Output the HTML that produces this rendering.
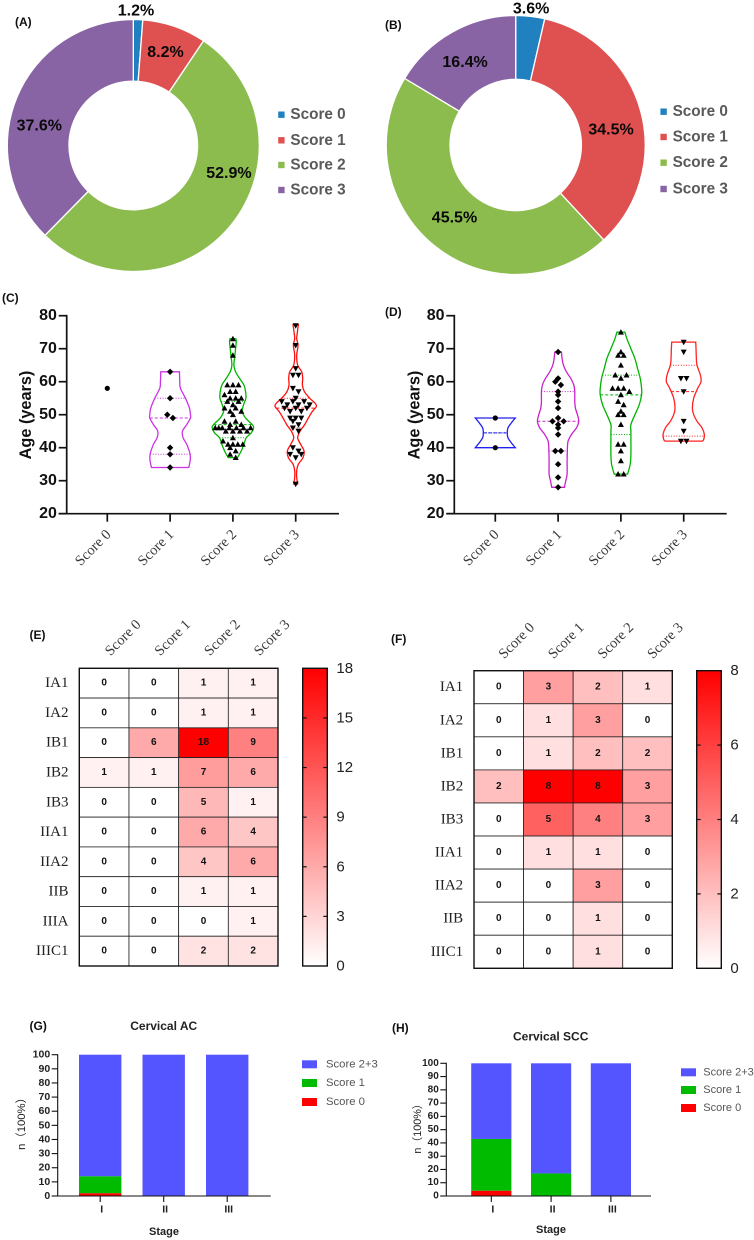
<!DOCTYPE html>
<html lang="en">
<head>
<meta charset="utf-8">
<title>Score distribution figure</title>
<style>
html,body{margin:0;padding:0;background:#fff;}
svg{display:block;font-family:"Liberation Sans","Noto Sans CJK SC",sans-serif;filter:blur(0.3px);}
.panel-tag{font-weight:bold;font-size:12px;fill:#111;}
.axis-title{font-weight:bold;font-size:16.3px;fill:#111;text-anchor:middle;}
.bar-title{font-weight:bold;font-size:12px;fill:#222;text-anchor:middle;}
.bar-ylabel{font-size:11.3px;fill:#222;text-anchor:middle;}
</style>
</head>
<body>
<svg id="figure" xmlns="http://www.w3.org/2000/svg" width="754" height="1240" viewBox="0 0 754 1240">
  <defs>
    <linearGradient id="heat-gradient" x1="0" y1="1" x2="0" y2="0">
      <stop offset="0" stop-color="#ffffff"/>
      <stop offset="1" stop-color="#ff0000"/>
    </linearGradient>
  </defs>
  <rect width="754" height="1240" fill="#fff"/>

  <g id="panel-a"></g>
  <g id="panel-b"></g>
  <g id="panel-c"></g>
  <g id="panel-d"></g>
  <g id="panel-e"></g>
  <g id="panel-f"></g>
  <g id="panel-g"></g>
  <g id="panel-h"></g>

  <text class="panel-tag" x="15" y="26">(A)</text>
  <text class="panel-tag" x="385" y="29">(B)</text>
  <text class="panel-tag" x="2" y="302">(C)</text>
  <text class="panel-tag" x="385" y="316">(D)</text>
  <text class="panel-tag" x="29.500" y="639">(E)</text>
  <text class="panel-tag" x="391" y="643">(F)</text>
  <text class="panel-tag" x="29.500" y="1030">(G)</text>
  <text class="panel-tag" x="392" y="1032">(H)</text>

  <text class="axis-title" transform="translate(26 415) rotate(-90)" dominant-baseline="central">Age (years)</text>
  <text class="axis-title" transform="translate(414.300 415) rotate(-90)" dominant-baseline="central">Age (years)</text>

  <text class="bar-title" x="163.700" y="1026" dominant-baseline="central">Cervical AC</text>
  <text class="bar-title" x="550.700" y="1036.700" dominant-baseline="central">Cervical SCC</text>
  <text class="bar-title" x="164" y="1232" style="font-size:11px" dominant-baseline="central">Stage</text>
  <text class="bar-title" x="551" y="1230" style="font-size:11px" dominant-baseline="central">Stage</text>
  <text class="bar-ylabel" transform="translate(22 1121) rotate(-90)" dominant-baseline="central">n（100%）</text>
  <text class="bar-ylabel" transform="translate(418 1126) rotate(-90)" dominant-baseline="central" style="font-size:10.8px">n（100%）</text>
</svg>

<script>
/* ---------- donut data ---------- */
const scoreLabels = ['Score 0', 'Score 1', 'Score 2', 'Score 3'];
const donutAValues = [1.2, 8.2, 52.9, 37.6];
const donutBValues = [3.6, 34.5, 45.5, 16.4];

/* ---------- violin data (ages in years, density in arbitrary units) ---------- */
const ageTicks = [20, 30, 40, 50, 60, 70, 80];

const cAges0 = [58];
const cAges1 = [63, 55, 50, 49, 40, 38, 34];
const cAges2 = [73, 71, 68, 59, 59, 59, 57, 57, 56, 55, 55, 55, 54, 54, 53, 52, 52, 51, 51, 50, 48, 48, 47, 47, 46, 46, 46, 46, 46, 46, 46, 45, 45, 45, 45, 43, 42, 41, 41, 41, 41, 40, 39, 38, 37];
const cAges3 = [77, 71, 64, 62, 62, 58, 57, 55, 54, 54, 54, 53, 53, 53, 52, 52, 52, 51, 51, 49, 49, 49, 48, 47, 46, 45, 40, 39, 38, 38, 37, 29];

const cLevels1 = [63, 60, 58, 55, 52, 50, 49, 47, 45, 43, 41, 38, 36, 34];
const cDensity1 = [28, 29, 31, 46, 58, 61, 61, 50, 37, 39, 50, 60, 60, 56];
const cLevels2 = [73, 72, 70, 68, 65, 63, 61, 59, 57, 55, 53, 51, 49, 47, 46, 44.5, 43, 41, 39, 37];
const cDensity2 = [9, 10, 8, 6, 3, 8, 20, 33, 38, 39, 32, 28, 38, 58, 62, 55, 40, 33, 25, 14];
const cLevels3 = [77.3, 75, 73, 71, 68, 65, 63, 61, 59, 57, 55, 53.5, 52.5, 51, 49, 47, 45, 43, 41, 39, 37, 35, 33, 31, 29];
const cDensity3 = [8, 5, 3, 7, 3, 6, 18, 21, 20, 26, 42, 58, 62, 50, 38, 27, 13, 6, 15, 25, 22, 8, 3, 3, 6];

const cQuartiles1 = [38, 49, 55];
const cQuartiles2 = [43, 47, 54];
const cQuartiles3 = [46, 52, 55];

const dAges0 = [49, 40];
const dAges1 = [69, 61, 60, 59, 57, 56, 54, 52, 49, 48, 48, 47, 46, 44, 39, 39, 35, 31, 28];
const dAges2 = [75, 69, 68, 68, 65, 62, 62, 61, 58, 58, 58, 57, 56, 54, 53, 51, 50, 50, 47, 41, 41, 39, 36, 32, 32];
const dAges3 = [72, 69, 61, 61, 57, 48, 45, 42, 42];

const dLevels0 = [49, 47.5, 46, 44.5, 43, 41.5, 40];
const dDensity0 = [60, 48, 38, 36, 38, 48, 60];
const dLevels1 = [69, 67, 65, 63, 61, 59, 57, 54, 52, 50, 48, 46, 44, 42, 40, 36, 32, 30, 28];
const dDensity1 = [10, 12, 16, 25, 38, 47, 50, 50, 52, 58, 62, 55, 40, 30, 28, 27, 27, 23, 19];
const dLevels2 = [75, 73, 70, 67, 64, 61, 58, 56, 53, 50, 47, 45, 42, 38, 35, 32];
const dDensity2 = [12, 18, 30, 42, 50, 58, 62, 62, 55, 42, 30, 30, 30, 30, 28, 20];
const dLevels3 = [72, 70, 67, 65, 62, 60, 58, 55, 52, 50, 48, 46, 44, 42.5, 42];
const dDensity3 = [36, 37, 38, 40, 50, 52, 42, 30, 26, 30, 40, 55, 62, 60, 56];

const dQuartiles0 = [44.5, 44.5, 44.5];
const dQuartiles1 = [39, 48, 57];
const dQuartiles2 = [44, 56, 62];
const dQuartiles3 = [43.5, 57, 65];

/* ---------- heatmap data ---------- */
const eRows = ['IA1', 'IA2', 'IB1', 'IB2', 'IB3', 'IIA1', 'IIA2', 'IIB', 'IIIA', 'IIIC1'];
const eValues = [
  [0, 0, 1, 1], [0, 0, 1, 1], [0, 6, 18, 9], [1, 1, 7, 6], [0, 0, 5, 1],
  [0, 0, 6, 4], [0, 0, 4, 6], [0, 0, 1, 1], [0, 0, 0, 1], [0, 0, 2, 2]
];
const eScaleTicks = [0, 3, 6, 9, 12, 15, 18];

const fRows = ['IA1', 'IA2', 'IB1', 'IB2', 'IB3', 'IIA1', 'IIA2', 'IIB', 'IIIC1'];
const fValues = [
  [0, 3, 2, 1], [0, 1, 3, 0], [0, 1, 2, 2], [2, 8, 8, 3], [0, 5, 4, 3],
  [0, 1, 1, 0], [0, 0, 3, 0], [0, 0, 1, 0], [0, 0, 1, 0]
];
const fScaleTicks = [0, 2, 4, 6, 8];

/* ---------- stacked bar data ---------- */
const stageLabels = ['I', 'II', 'III'];
const percentTicks = [0, 10, 20, 30, 40, 50, 60, 70, 80, 90, 100];
const barLegendLabels = ['Score 2+3', 'Score 1', 'Score 0'];
const gScore0 = [2, 0, 0];
const gScore1 = [12, 0, 0];
const gScore23 = [86, 100, 100];
const hScore0 = [4, 0, 0];
const hScore1 = [39, 17, 0];
const hScore23 = [57, 83, 100];

/* ---------- helpers ---------- */
const NS = 'http://www.w3.org/2000/svg';
const SERIF = '"Liberation Serif","Noto Serif CJK SC",serif';

function mk(tag, attrs, parent, text) {
  const n = document.createElementNS(NS, tag);
  for (const k in attrs) n.setAttribute(k, attrs[k]);
  if (text !== undefined) n.textContent = text;
  parent.appendChild(n);
  return n;
}
function f2(v) { return Math.round(v * 100) / 100; }

/* ---------- donut ---------- */
const donutColors = ['#2080c0', '#df5050', '#8cbc4e', '#8964a4'];

function polar(cx, cy, r, deg) {
  const a = deg * Math.PI / 180;
  return [cx + r * Math.sin(a), cy - r * Math.cos(a)];
}

function drawDonut(rootId, values, geo, labelShift, labelRadius, legendGeo) {
  const root = document.getElementById(rootId);
  const total = values.reduce((s, v) => s + v, 0);
  let start = 0;
  values.forEach((v, i) => {
    const sweep = v / total * 360;
    const end = start + sweep;
    const p1 = polar(geo.cx, geo.cy, geo.r, start);
    const p2 = polar(geo.cx, geo.cy, geo.r, end);
    const p3 = polar(geo.cx, geo.cy, geo.ir, end);
    const p4 = polar(geo.cx, geo.cy, geo.ir, start);
    const large = sweep > 180 ? 1 : 0;
    const slice = mk('path', {
      d: 'M' + f2(p1[0]) + ' ' + f2(p1[1]) + 'A' + geo.r + ' ' + geo.r + ' 0 ' + large + ' 1 ' + f2(p2[0]) + ' ' + f2(p2[1]) +
         'L' + f2(p3[0]) + ' ' + f2(p3[1]) + 'A' + geo.ir + ' ' + geo.ir + ' 0 ' + large + ' 0 ' + f2(p4[0]) + ' ' + f2(p4[1]) + 'Z',
      fill: donutColors[i], stroke: '#fff', 'stroke-width': 1.3
    }, root);
    
    
    start = end;
  });
  start = 0;
  values.forEach((v, i) => {
    const sweep = v / total * 360;
    const p = polar(geo.cx, geo.cy, labelRadius[i], start + sweep / 2 + labelShift[i]);
    const t = mk('text', {
      x: f2(p[0]), y: f2(p[1]), 'text-anchor': 'middle', 'dominant-baseline': 'central',
      'font-size': 16, 'font-weight': 'bold', fill: '#0a0a0a'
    }, root, v.toFixed(1) + '%');
    
    
    start += sweep;
  });
  scoreLabels.forEach((label, i) => {
    const y = legendGeo.y[i];
    const sw = mk('rect', { x: legendGeo.x, y: y - 3.2, width: 6.4, height: 6.4, fill: donutColors[i] }, root);
    
    
    const t = mk('text', {
      x: legendGeo.x + 12.2, y: y, 'dominant-baseline': 'central',
      'font-size': 15.3, 'font-weight': 'bold', fill: '#595959'
    }, root, label);
    
    
  });
}

drawDonut('panel-a', donutAValues, { cx: 133.3, cy: 145.5, r: 126, ir: 64.3 },
  [-1, 0, -23, -10.5], [134.5, 98.4, 99.6, 96], { x: 278.2, y: [114.7, 140.3, 165, 190] });
drawDonut('panel-b', donutBValues, { cx: 515.7, cy: 145, r: 129.5, ir: 65.7 },
  [0, 6, 1, -2], [136.9, 96.5, 95.1, 96.8], { x: 660.4, y: [111.7, 137, 162.7, 189] });

/* ---------- violin ---------- */
const ageY = a => 513.7 - (a - 20) * 3.3;
const densityX = d => d / 3;
const cScoreX = i => 107.3 + i * 62.8;
const dScoreX = i => 495.3 + i * 62.8;

function smoothThrough(pts, move) {
  let d = (move ? 'M' : 'L') + f2(pts[0][0]) + ' ' + f2(pts[0][1]);
  for (let i = 0; i < pts.length - 1; i++) {
    const p0 = pts[Math.max(0, i - 1)], p1 = pts[i], p2 = pts[i + 1], p3 = pts[Math.min(pts.length - 1, i + 2)];
    d += 'C' + f2(p1[0] + (p2[0] - p0[0]) / 6) + ' ' + f2(p1[1] + (p2[1] - p0[1]) / 6) + ' ' +
         f2(p2[0] - (p3[0] - p1[0]) / 6) + ' ' + f2(p2[1] - (p3[1] - p1[1]) / 6) + ' ' + f2(p2[0]) + ' ' + f2(p2[1]);
  }
  return d;
}

function densityAt(levels, density, age) {
  for (let i = 0; i < levels.length - 1; i++) {
    if (age <= levels[i] && age >= levels[i + 1]) {
      const t = (levels[i] - age) / (levels[i] - levels[i + 1] || 1);
      return density[i] + t * (density[i + 1] - density[i]);
    }
  }
  return density.length ? density[density.length - 1] : 60;
}

/* Groups points into two-year bins and spreads each bin symmetrically, like the
   scatter layout of a violin plot, with ages staggered so neighbours interleave. */
function swarm(ages, maxStep, levels, density) {
  const bins = new Map();
  ages.slice().sort((a, b) => b - a).forEach(a => {
    const key = Math.floor((a + 1) / 2);
    if (!bins.has(key)) bins.set(key, []);
    bins.get(key).push(a);
  });
  const placed = [];
  bins.forEach(members => {
    const n = members.length;
    const mean = members.reduce((s, v) => s + v, 0) / n;
    const hw = densityX(densityAt(levels, density, mean));
    const step = n > 1 ? Math.min(maxStep, 2 * hw * 0.88 / (n - 1)) : 0;
    const order = [];
    for (let k = 0; k < n; k += 2) order.push(k);
    for (let k = 1; k < n; k += 2) order.push(k);
    members.forEach((age, j) => {
      placed.push({ age: age, offset: (order[j] - (n - 1) / 2) * step });
    });
  });
  return placed;
}

function markerPath(kind, x, y) {
  if (kind === 'diamond') return 'M' + f2(x) + ' ' + f2(y - 3.2) + 'L' + f2(x + 3.2) + ' ' + f2(y) + 'L' + f2(x) + ' ' + f2(y + 3.2) + 'L' + f2(x - 3.2) + ' ' + f2(y) + 'Z';
  if (kind === 'up') return 'M' + f2(x) + ' ' + f2(y - 3.1) + 'L' + f2(x + 3) + ' ' + f2(y + 2.4) + 'L' + f2(x - 3) + ' ' + f2(y + 2.4) + 'Z';
  return 'M' + f2(x) + ' ' + f2(y + 3.1) + 'L' + f2(x + 3) + ' ' + f2(y - 2.4) + 'L' + f2(x - 3) + ' ' + f2(y - 2.4) + 'Z';
}

function drawViolinAxes(root, axisX, rightEnd, scoreX) {
  const yLine = mk('line', { x1: axisX, x2: axisX, y1: ageY(80) - 0.8, y2: ageY(20) + 0.8, stroke: '#111', 'stroke-width': 1.7 }, root);
  
  
  const xLine = mk('line', { x1: axisX - 8, x2: rightEnd, y1: ageY(20), y2: ageY(20), stroke: '#111', 'stroke-width': 1.7 }, root);
  
  
  ageTicks.forEach(t => {
    const tick = mk('line', { x1: axisX - 8, x2: axisX, y1: ageY(t), y2: ageY(t), stroke: '#111', 'stroke-width': 1.7 }, root);
    
    
    const label = mk('text', {
      x: axisX - 9.8, y: ageY(t), 'text-anchor': 'end', 'dominant-baseline': 'central',
      'font-size': 16, 'font-weight': 'bold', fill: '#111'
    }, root, String(t));
    
    
  });
  scoreLabels.forEach((name, i) => {
    const x = scoreX(i);
    const tick = mk('line', { x1: x, x2: x, y1: ageY(20), y2: ageY(20) + 8, stroke: '#111', 'stroke-width': 1.7 }, root);
    
    
    const label = mk('text', {
      transform: 'translate(' + f2(x - 14) + ' 548) rotate(-45)', 'text-anchor': 'middle', 'dominant-baseline': 'central',
      'font-size': 14.5, 'font-family': SERIF, fill: '#3a3a3a'
    }, root, name);
    
    
  });
}

function drawViolin(root, x, ages, levels, density, quartiles, color, marker) {
  if (levels.length) {
    const right = levels.map((a, i) => [x + densityX(density[i]), ageY(a)]);
    const left = levels.map((a, i) => [x - densityX(density[i]), ageY(a)]).reverse();
    const outline = mk('path', {
      d: smoothThrough(right, true) + smoothThrough(left, false) + 'Z',
      fill: 'none', stroke: color, 'stroke-width': 1.3
    }, root);
    
    
    quartiles.forEach((q, i) => {
      const hw = densityX(densityAt(levels, density, q));
      const line = mk('line', {
        x1: f2(x - hw), x2: f2(x + hw), y1: ageY(q), y2: ageY(q), stroke: color, 'stroke-width': 1,
        'stroke-dasharray': i === 1 ? '3 2' : '1 1.6'
      }, root);
      
      
    });
  }
  swarm(ages, 5.6, levels, density).forEach(p => {
    const px = x + p.offset, py = ageY(p.age);
    let m;
    if (marker === 'circle') {
      m = mk('circle', { cx: f2(px), cy: f2(py), r: 2.6, fill: '#000' }, root);
    } else {
      m = mk('path', { d: markerPath(marker, px, py), fill: '#000' }, root);
    }
    
    
  });
}

const panelC = document.getElementById('panel-c');
drawViolinAxes(panelC, 66.7, 339, cScoreX);
drawViolin(panelC, cScoreX(0), cAges0, [], [], [], '#000', 'circle');
drawViolin(panelC, cScoreX(1), cAges1, cLevels1, cDensity1, cQuartiles1, '#cc33e6', 'diamond');
drawViolin(panelC, cScoreX(2), cAges2, cLevels2, cDensity2, cQuartiles2, '#00b400', 'up');
drawViolin(panelC, cScoreX(3), cAges3, cLevels3, cDensity3, cQuartiles3, '#ff1010', 'down');

const panelD = document.getElementById('panel-d');
drawViolinAxes(panelD, 454.3, 726.7, dScoreX);
drawViolin(panelD, dScoreX(0), dAges0, dLevels0, dDensity0, dQuartiles0, '#2222ee', 'circle');
drawViolin(panelD, dScoreX(1), dAges1, dLevels1, dDensity1, dQuartiles1, '#cc22cc', 'diamond');
drawViolin(panelD, dScoreX(2), dAges2, dLevels2, dDensity2, dQuartiles2, '#00b400', 'up');
drawViolin(panelD, dScoreX(3), dAges3, dLevels3, dDensity3, dQuartiles3, '#ff2222', 'down');

/* ---------- heatmap ---------- */
function drawHeatmap(rootId, rows, values, scaleTicks, geo) {
  const root = document.getElementById(rootId);
  const maxV = scaleTicks[scaleTicks.length - 1];
  const cw = (geo.x1 - geo.x0) / 4, rh = (geo.y1 - geo.y0) / rows.length;
  const colX = c => geo.x0 + c * cw;
  const rowY = r => geo.y0 + r * rh;
  const heat = v => {
    const g = Math.round(255 * (1 - v / maxV));
    return 'rgb(255,' + g + ',' + g + ')';
  };
  values.forEach((row, r) => {
    row.forEach((v, c) => {
      const cell = mk('rect', { x: f2(colX(c)), y: f2(rowY(r)), width: f2(cw), height: f2(rh), fill: heat(v), stroke: '#222', 'stroke-width': 0.8 }, root);
      
      
      const t = mk('text', {
        x: f2(colX(c) + cw / 2), y: f2(rowY(r) + rh / 2), 'text-anchor': 'middle', 'dominant-baseline': 'central',
        'font-size': 10, 'font-weight': 'bold', fill: '#111'
      }, root, String(v));
      
      
    });
  });
  const frame = mk('rect', { x: geo.x0, y: geo.y0, width: f2(geo.x1 - geo.x0), height: f2(geo.y1 - geo.y0), fill: 'none', stroke: '#111', 'stroke-width': 1.4 }, root);
  
  
  rows.forEach((name, r) => {
    const t = mk('text', {
      x: geo.x0 - 10.8, y: f2(rowY(r) + rh / 2), 'text-anchor': 'end', 'dominant-baseline': 'central',
      'font-size': 15, 'font-family': SERIF, fill: '#222'
    }, root, name);
    
    
  });
  scoreLabels.forEach((name, c) => {
    const t = mk('text', {
      transform: 'translate(' + f2(colX(c) + cw / 2 + geo.colDx) + ' ' + geo.colY + ') rotate(-45)', 'text-anchor': 'middle', 'dominant-baseline': 'central',
      'font-size': 14.5, 'font-family': SERIF, fill: '#3a3a3a'
    }, root, name);
    
    
  });
  const bar = mk('rect', { x: geo.barX, y: geo.y0, width: 24.6, height: f2(geo.y1 - geo.y0), fill: 'url(#heat-gradient)', stroke: '#111', 'stroke-width': 1.4 }, root);
  
  
  const scaleY = v => geo.y1 - v / maxV * (geo.y1 - geo.y0);
  scaleTicks.forEach(v => {
    if (v !== 0 && v !== maxV) {
      [[geo.barX, geo.barX + 4], [geo.barX + 20.6, geo.barX + 24.6]].forEach(seg => {
        const tick = mk('line', { x1: seg[0], x2: seg[1], y1: f2(scaleY(v)), y2: f2(scaleY(v)), stroke: '#111', 'stroke-width': 1.2 }, root);
        
        
      });
    }
    const t = mk('text', {
      x: geo.barX + 33.7, y: f2(scaleY(v)), 'dominant-baseline': 'central', 'font-size': 15, fill: '#222'
    }, root, String(v));
    
    
  });
}

drawHeatmap('panel-e', eRows, eValues, eScaleTicks, { x0: 79.3, x1: 278, y0: 668.3, y1: 966, barX: 302.7, colDx: 19, colY: 638 });
drawHeatmap('panel-f', fRows, fValues, fScaleTicks, { x0: 474, x1: 672.3, y0: 670.7, y1: 968.3, barX: 696.7, colDx: 18, colY: 641 });

/* ---------- stacked bars ---------- */
const barColors = ['#5555ff', '#00bb00', '#ff0000'];

function drawStackedBars(rootId, score0, score1, score23, geo) {
  const root = document.getElementById(rootId);
  const py = v => geo.y0 - v / 100 * (geo.y0 - geo.y100);
  const bx = i => geo.first + i * geo.gap;
  stageLabels.forEach((stage, i) => {
    const seq = [[score0[i], barColors[2], 'bar-score-0'], [score1[i], barColors[1], 'bar-score-1'], [score23[i], barColors[0], 'bar-score-2-3']];
    let base = 0;
    seq.forEach(s => {
      if (s[0] > 0) {
        const r = mk('rect', { x: f2(bx(i) - geo.bw / 2), y: f2(py(base + s[0])), width: geo.bw, height: f2(py(base) - py(base + s[0])), fill: s[1] }, root);
        
        
      }
      base += s[0];
    });
    const tick = mk('line', { x1: f2(bx(i)), x2: f2(bx(i)), y1: geo.y0, y2: geo.y0 + 6, stroke: '#111', 'stroke-width': 1.1 }, root);
    
    
    const lab = mk('text', {
      x: f2(bx(i) + 1.5), y: geo.y0 + 13.5, 'text-anchor': 'middle', 'dominant-baseline': 'central',
      'font-size': 10.5, 'font-weight': 'bold', fill: '#222'
    }, root, stage);
    
    
  });
  const yLine = mk('line', { x1: geo.axisX, x2: geo.axisX, y1: geo.y100 - 0.5, y2: geo.y0 + 0.5, stroke: '#111', 'stroke-width': 1.1 }, root);
  
  
  const xLine = mk('line', { x1: geo.axisX - 6, x2: geo.right, y1: geo.y0, y2: geo.y0, stroke: '#111', 'stroke-width': 1.1 }, root);
  
  
  percentTicks.forEach(v => {
    const tick = mk('line', { x1: geo.axisX - 6, x2: geo.axisX, y1: f2(py(v)), y2: f2(py(v)), stroke: '#111', 'stroke-width': 1.1 }, root);
    
    
    const lab = mk('text', {
      x: geo.axisX - 7.5, y: f2(py(v)), 'text-anchor': 'end', 'dominant-baseline': 'central',
      'font-size': geo.fs, 'font-weight': 'bold', fill: '#222'
    }, root, String(v));
    
    
  });
  barLegendLabels.forEach((label, i) => {
    const sw = mk('rect', { x: geo.legX, y: f2(geo.legY[i] - 4), width: 15, height: 8, fill: barColors[i] }, root);
    
    
    const t = mk('text', {
      x: geo.legTextX, y: f2(geo.legY[i]), 'dominant-baseline': 'central', 'font-size': geo.legFs, fill: '#555'
    }, root, label);
    
    
  });
}

drawStackedBars('panel-g', gScore0, gScore1, gScore23, {
  axisX: 57.7, y0: 1196, y100: 1054.7, right: 270.7, first: 100.2, gap: 63.5, bw: 42.4, fs: 10.5,
  legX: 302, legY: [1064.3, 1083, 1102], legTextX: 326, legFs: 11.3
});
drawStackedBars('panel-h', hScore0, hScore1, hScore23, {
  axisX: 446.3, y0: 1196, y100: 1063.3, right: 651, first: 491.3, gap: 59.8, bw: 40.2, fs: 10,
  legX: 681, legY: [1072.3, 1090, 1108], legTextX: 703.3, legFs: 11
});
</script>
</body>
</html>
